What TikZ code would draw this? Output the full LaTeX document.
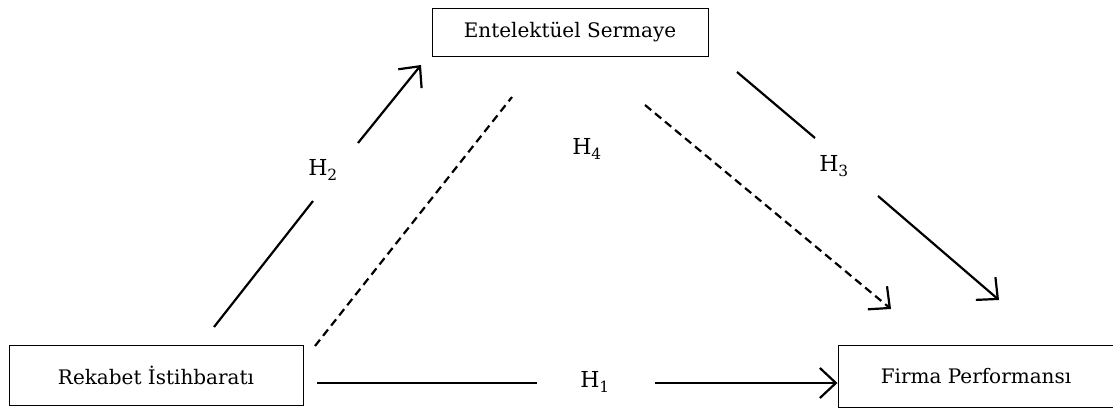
\documentclass[tikz,border=0pt]{standalone}
\usepackage{fontspec}
\setmainfont{DejaVu Serif}
\usepackage{tikz}
\usetikzlibrary{arrows.meta}
\usetikzlibrary{positioning}

\tikzset{
	box/.style={draw,line width=1pt,inner sep=0pt,font=\fontsize{20}{22}\selectfont},
	hyp/.style={font=\fontsize{22}{24}\selectfont},
	link/.style={line width=2.2pt},
	tip/.style={-{Straight Barb[length=16pt,width=30pt]}},
	dashlink/.style={line width=2.2pt,dash pattern=on 8pt off 5pt}
}

\begin{document}
\begin{tikzpicture}[x=1pt,y=-1pt]
	\useasboundingbox (0,0) rectangle (1113,407);
	
	\node [box,minimum width=276pt,minimum height=48pt] (es) at (570,32) {Entelektüel Sermaye};
	\node [box,minimum width=294pt,minimum height=60pt] (ri) at (156,375) {Rekabet İstihbaratı};
	\node [box,minimum width=276pt,minimum height=62pt] (fp) at (976,376) {Firma Performansı};
	
	\node [hyp] (h1) at (595,382) {H\textsubscript{1}};
	\node [hyp] (h2) at (323,170) {H\textsubscript{2}};
	\node [hyp] (h3) at (834,166) {H\textsubscript{3}};
	\node [hyp] (h4) at (587,149) {H\textsubscript{4}};
	
	% H1
	\coordinate [] (h1a) at (317,383);
	\coordinate [] (h1b) at (537,383);
	\coordinate [] (h1c) at (655,383);
	\draw [link] (h1a) -- (h1b);
	\draw [link,tip] (h1c) -- (h1c -| fp.west);
	
	% H2
	\coordinate [] (h2a) at (214,327);
	\coordinate [] (h2b) at (313,201);
	\coordinate [] (h2c) at (358,143);
	\coordinate [] (h2d) at (421,65);
	\draw [link] (h2a) -- (h2b);
	\draw [link,tip] (h2c) -- (h2d);
	
	% H3
	\coordinate [] (h3a) at (737,72);
	\coordinate [] (h3b) at (815,138);
	\coordinate [] (h3c) at (878,196);
	\coordinate [] (h3d) at (999,300);
	\draw [link] (h3a) -- (h3b);
	\draw [link,tip] (h3c) -- (h3d);
	
	% H4
	\coordinate [] (h4a) at (315,346);
	\coordinate [] (h4b) at (512,97);
	\coordinate [] (h4c) at (645,105);
	\coordinate [] (h4d) at (891,309);
	\draw [dashlink] (h4a) -- (h4b);
	\draw [dashlink,tip] (h4c) -- (h4d);
	
\end{tikzpicture}
\end{document}
